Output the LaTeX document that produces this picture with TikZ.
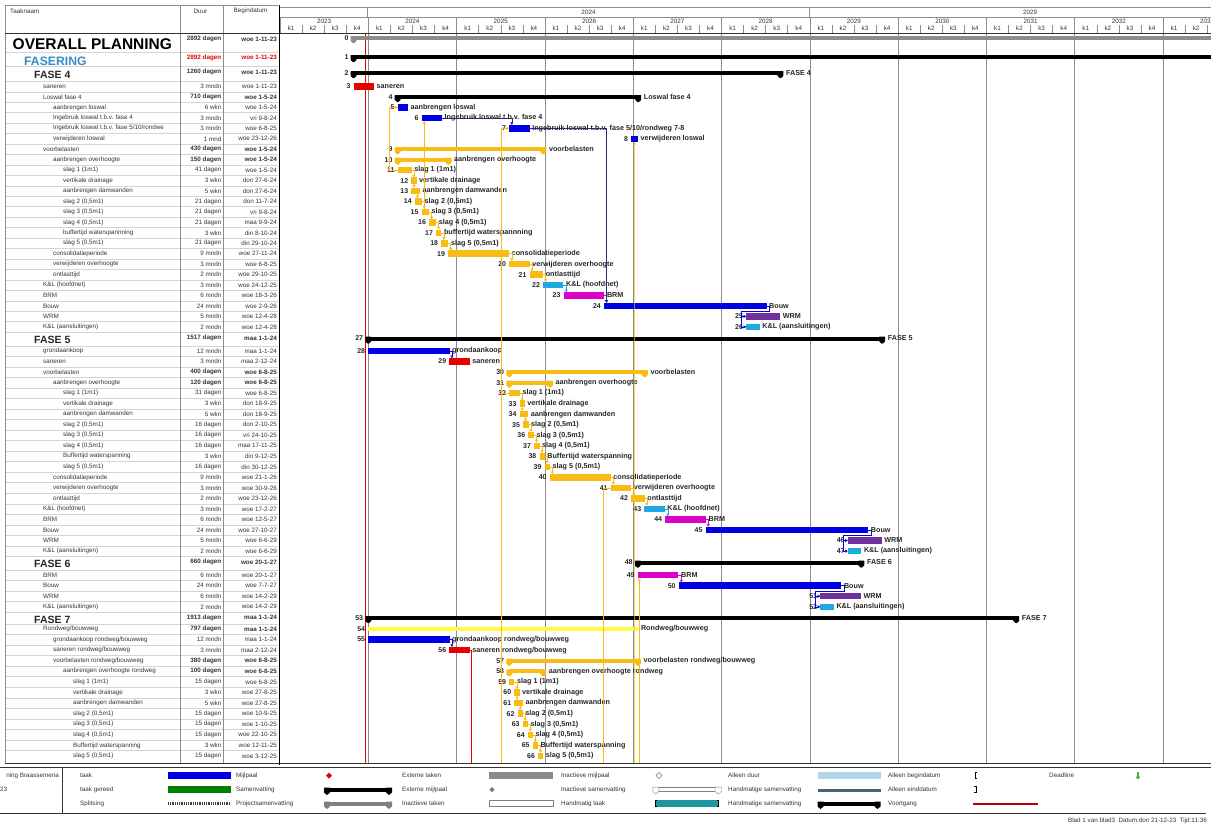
\documentclass[tikz,border=0pt]{standalone}
\usepackage{fontspec}
\setmainfont{Liberation Sans}
\usetikzlibrary{positioning,arrows.meta}

\definecolor{blauw}{RGB}{0,0,230}
\definecolor{rood}{RGB}{230,0,0}
\definecolor{geel}{RGB}{248,188,20}
\definecolor{lichtgeel}{RGB}{255,250,70}
\definecolor{cyaan}{RGB}{30,170,225}
\definecolor{magenta}{RGB}{220,0,200}
\definecolor{paars}{RGB}{112,48,160}
\definecolor{navy}{RGB}{40,40,120}
\definecolor{fasering}{RGB}{55,140,200}
\definecolor{teal}{RGB}{30,150,160}
\definecolor{lichtblauw}{RGB}{176,216,232}
\definecolor{leisteen}{RGB}{70,100,120}
\definecolor{groen}{RGB}{0,128,0}
\definecolor{deadline}{RGB}{80,170,70}

\newcommand{\fsz}[1]{\fontsize{#1}{#1}\selectfont}

\tikzset{
  cel/.style={inner sep=0pt, text=black!80, font=\fsz{6.3}},
  vet/.style={font=\bfseries\fsz{6.3}},
  nr/.style={inner sep=0pt, font=\bfseries\fsz{7}, text=black!85},
  lbl/.style={inner sep=0pt, font=\bfseries\fsz{7.2}, text=black!85},
  taak/.style={fill=#1, minimum height=6.5pt, inner sep=0pt, outer sep=0pt},
  somlijn/.style={fill=#1, minimum height=4pt, inner sep=0pt, outer sep=0pt},
  koppel/.style={draw=#1, line width=0.5pt, -{Triangle[length=2.6pt,width=3pt]}},
  rijlijn/.style={draw=black!17, line width=0.4pt},
  kolom/.style={draw=black!45, line width=0.5pt},
  jaarlijn/.style={draw=black!45, line width=0.5pt},
}

% tabelrij: id, y, x naam, naam, duur, begindatum, extra stijl
\newcommand{\trij}[7]{%
  \node[cel, anchor=west] (tn#1) at (#3,#2) {#4};
  \node[cel, anchor=east, #7] (td#1) at (221.5,#2) {#5};
  \node[cel, anchor=east, #7] (tb#1) at (277,#2) {#6};}

% taakbalk: id, y, begin, eind, kleur, tekst
\newcommand{\balk}[6]{%
  \node[taak=#5, anchor=west, minimum width={(#4-#3)*1pt}] (b#1) at (#3,#2) {};
  \node[nr, left=3pt of b#1] (n#1) {#1};
  \node[lbl, right=2.5pt of b#1] (l#1) {#6};}

% samenvatting: id, y, begin, eind, kleur, tekst
\newcommand{\som}[6]{%
  \node[somlijn=#5, anchor=west, minimum width={(#4-#3)*1pt}] (b#1) at (#3,#2) {};
  \fill[#5, rounded corners=0.6pt] (b#1.north west) ++(-3,0) -- ++(6,0) -- ++(0,5) -- ++(-3,2.5) -- ++(-3,-2.5) -- cycle;
  \fill[#5, rounded corners=0.6pt] (b#1.north east) ++(-3,0) -- ++(6,0) -- ++(0,5) -- ++(-3,2.5) -- ++(-3,-2.5) -- cycle;
  \node[nr, left=5pt of b#1] (n#1) {#1};
  \node[lbl, right=5.5pt of b#1] (l#1) {#6};}

% koppelingen
\newcommand{\fsk}[3]{\draw[koppel=#1] (b#2.east) -| ([xshift=2.5pt]b#3.north west);}
\newcommand{\slk}[3]{\draw[koppel=#1] (b#2.east) -- ++(3,0) -- ++(0,5.2) -| ([xshift=-5pt]b#3.west) -- (b#3.west);}

\begin{document}
\begin{tikzpicture}[x=1pt, y=-1pt]
\useasboundingbox (0,0) rectangle (1211,825);

% tijdschaal
\draw[jaarlijn] (280,7) -- (1211,7);
\draw[jaarlijn] (280,17.3) -- (1211,17.3);
\draw[jaarlijn] (367.7,7) -- (367.7,17.3);
\draw[jaarlijn] (809.3,7) -- (809.3,17.3);
\node[cel] (top1) at (588.5,12.5) {2024};
\node[cel] (top2) at (1030,12.5) {2029};
\foreach \j in {0,...,10} {
  \pgfmathsetmacro\xo{280+\j*88.3}
  \pgfmathtruncatemacro\jaar{2023+\j}
  \draw[jaarlijn] (\xo,17.3) -- (\xo,33);
  \node[cel] (jr\j) at (\xo+44.15,21.5) {\jaar};
  \foreach \q in {1,...,4} {
    \node[cel] (k\j\q) at (\xo+\q*22.075-11,28.6) {k\q};
  }
  \foreach \q in {1,...,3} {
    \draw[jaarlijn] (\xo+\q*22.075,25) -- (\xo+\q*22.075,33);
  }
}
\foreach \j in {1,...,10} {
  \draw[jaarlijn] (280+\j*88.3,33) -- (280+\j*88.3,763);
}
\draw[rood, line width=0.6pt] (365.5,33) -- (365.5,763);

% tabelkader
\draw[rijlijn] (5,52.5) -- (278,52.5) (5,66) -- (278,66) (5,81.3) -- (278,81.3);
\foreach \i in {3,...,25} {\draw[rijlijn] (5,{91.7+(\i-3)*10.45}) -- (278,{91.7+(\i-3)*10.45});}
\draw[rijlijn] (5,332.1) -- (278,332.1) (5,345.7) -- (278,345.7);
\foreach \i in {28,...,46} {\draw[rijlijn] (5,{356.3+(\i-28)*10.53}) -- (278,{356.3+(\i-28)*10.53});}
\draw[rijlijn] (5,556.4) -- (278,556.4) (5,569.7) -- (278,569.7);
\foreach \i in {49,...,51} {\draw[rijlijn] (5,{580.3+(\i-49)*10.6}) -- (278,{580.3+(\i-49)*10.6});}
\draw[rijlijn] (5,612.1) -- (278,612.1) (5,623.7) -- (278,623.7);
\foreach \i in {54,...,65} {\draw[rijlijn] (5,{634.3+(\i-54)*10.58}) -- (278,{634.3+(\i-54)*10.58});}
\draw[kolom] (5,5) -- (278,5);
\draw[kolom] (5,5) -- (5,763);
\draw[kolom] (180,5) -- (180,763);
\draw[kolom] (223,5) -- (223,763);
\draw[black!80, line width=0.7pt] (5,33) -- (1211,33);
\draw[black!80, line width=0.7pt] (5,763) -- (1211,763);
\draw[black, line width=0.9pt] (279,5) -- (279,765);

\node[cel, anchor=west] (kop1) at (10,11) {Taaknaam};
\node[cel] (kop2) at (200.5,11) {Duur};
\node[cel] (kop3) at (250.5,11) {Begindatum};

% tabel
\node[inner sep=0pt, anchor=west, font=\bfseries\fsz{15.5}] (tn0) at (12.5,44) {OVERALL PLANNING};
\node[cel, vet, anchor=east] (td0) at (221.5,39) {2892 dagen};
\node[cel, vet, anchor=east] (tb0) at (277,39) {woe 1-11-23};
\node[inner sep=0pt, anchor=west, font=\bfseries\fsz{12.2}, text=fasering] (tn1) at (24,61) {FASERING};
\node[cel, vet, anchor=east, text=rood] (td1) at (221.5,57.5) {2892 dagen};
\node[cel, vet, anchor=east, text=rood] (tb1) at (277,57.5) {woe 1-11-23};
\node[inner sep=0pt, anchor=west, font=\bfseries\fsz{10.5}, text=black!85] (tn2) at (34,74.5) {FASE 4};
\node[cel, vet, anchor=east] (td2) at (221.5,72) {1260 dagen};
\node[cel, vet, anchor=east] (tb2) at (277,72) {woe 1-11-23};
\trij{3}{86.5}{43}{saneren}{3 mndn}{woe 1-11-23}{}
\trij{4}{97.0}{43}{Loswal fase 4}{710 dagen}{woe 1-5-24}{vet}
\trij{5}{107.4}{53}{aanbrengen loswal}{6 wkn}{woe 1-5-24}{}
\trij{6}{117.9}{53}{Ingebruik loswal t.b.v. fase 4}{3 mndn}{vri 9-8-24}{}
\trij{7}{128.3}{53}{Ingebruik loswal t.b.v. fase 5/10/rondwe}{3 mndn}{woe 6-8-25}{}
\trij{8}{138.8}{53}{verwijderen loswal}{1 mnd}{woe 23-12-26}{}
\trij{9}{149.2}{43}{voorbelasten}{430 dagen}{woe 1-5-24}{vet}
\trij{10}{159.7}{53}{aanbrengen overhoogte}{150 dagen}{woe 1-5-24}{vet}
\trij{11}{170.1}{63}{slag 1 (1m1)}{41 dagen}{woe 1-5-24}{}
\trij{12}{180.6}{63}{vertikale drainage}{3 wkn}{don 27-6-24}{}
\trij{13}{191.0}{63}{aanbrengen damwanden}{5 wkn}{don 27-6-24}{}
\trij{14}{201.5}{63}{slag 2 (0,5m1)}{21 dagen}{don 11-7-24}{}
\trij{15}{211.9}{63}{slag 3 (0,5m1)}{21 dagen}{vri 9-8-24}{}
\trij{16}{222.4}{63}{slag 4 (0,5m1)}{21 dagen}{maa 9-9-24}{}
\trij{17}{232.8}{63}{buffertijd waterspannning}{3 wkn}{din 8-10-24}{}
\trij{18}{243.3}{63}{slag 5 (0,5m1)}{21 dagen}{din 29-10-24}{}
\trij{19}{253.7}{53}{consolidatieperiode}{9 mndn}{woe 27-11-24}{}
\trij{20}{264.2}{53}{verwijderen overhoogte}{3 mndn}{woe 6-8-25}{}
\trij{21}{274.6}{53}{ontlasttijd}{2 mndn}{woe 29-10-25}{}
\trij{22}{285.1}{43}{K\&L (hoofdnet)}{3 mndn}{woe 24-12-25}{}
\trij{23}{295.5}{43}{BRM}{6 mndn}{woe 18-3-26}{}
\trij{24}{306.0}{43}{Bouw}{24 mndn}{woe 2-9-26}{}
\trij{25}{316.4}{43}{WRM}{5 mndn}{woe 12-4-28}{}
\trij{26}{326.9}{43}{K\&L (aansluitingen)}{2 mndn}{woe 12-4-28}{}
\node[inner sep=0pt, anchor=west, font=\bfseries\fsz{10.5}, text=black!85] (tn27) at (34,340) {FASE 5};
\node[cel, vet, anchor=east] (td27) at (221.5,338) {1517 dagen};
\node[cel, vet, anchor=east] (tb27) at (277,338) {maa 1-1-24};
\trij{28}{351.0}{43}{grondaankoop}{12 mndn}{maa 1-1-24}{}
\trij{29}{361.5}{43}{saneren}{3 mndn}{maa 2-12-24}{}
\trij{30}{372.1}{43}{voorbelasten}{400 dagen}{woe 6-8-25}{vet}
\trij{31}{382.6}{53}{aanbrengen overhoogte}{120 dagen}{woe 6-8-25}{vet}
\trij{32}{393.1}{63}{slag 1 (1m1)}{31 dagen}{woe 6-8-25}{}
\trij{33}{403.7}{63}{vertikale drainage}{3 wkn}{don 18-9-25}{}
\trij{34}{414.2}{63}{aanbrengen damwanden}{5 wkn}{don 18-9-25}{}
\trij{35}{424.7}{63}{slag 2 (0,5m1)}{16 dagen}{don 2-10-25}{}
\trij{36}{435.2}{63}{slag 3 (0,5m1)}{16 dagen}{vri 24-10-25}{}
\trij{37}{445.8}{63}{slag 4 (0,5m1)}{16 dagen}{maa 17-11-25}{}
\trij{38}{456.3}{63}{Buffertijd waterspanning}{3 wkn}{din 9-12-25}{}
\trij{39}{466.8}{63}{slag 5 (0,5m1)}{16 dagen}{din 30-12-25}{}
\trij{40}{477.4}{53}{consolidatieperiode}{9 mndn}{woe 21-1-26}{}
\trij{41}{487.9}{53}{verwijderen overhoogte}{3 mndn}{woe 30-9-26}{}
\trij{42}{498.4}{53}{ontlasttijd}{2 mndn}{woe 23-12-26}{}
\trij{43}{509.0}{43}{K\&L (hoofdnet)}{3 mndn}{woe 17-2-27}{}
\trij{44}{519.5}{43}{BRM}{6 mndn}{woe 12-5-27}{}
\trij{45}{530.0}{43}{Bouw}{24 mndn}{woe 27-10-27}{}
\trij{46}{540.5}{43}{WRM}{5 mndn}{woe 6-6-29}{}
\trij{47}{551.1}{43}{K\&L (aansluitingen)}{2 mndn}{woe 6-6-29}{}
\node[inner sep=0pt, anchor=west, font=\bfseries\fsz{10.5}, text=black!85] (tn48) at (34,564) {FASE 6};
\node[cel, vet, anchor=east] (td48) at (221.5,562) {660 dagen};
\node[cel, vet, anchor=east] (tb48) at (277,562) {woe 20-1-27};
\trij{49}{575.0}{43}{BRM}{6 mndn}{woe 20-1-27}{}
\trij{50}{585.6}{43}{Bouw}{24 mndn}{woe 7-7-27}{}
\trij{51}{596.2}{43}{WRM}{6 mndn}{woe 14-2-29}{}
\trij{52}{606.8}{43}{K\&L (aansluitingen)}{2 mndn}{woe 14-2-29}{}
\node[inner sep=0pt, anchor=west, font=\bfseries\fsz{10.5}, text=black!85] (tn53) at (34,619.5) {FASE 7};
\node[cel, vet, anchor=east] (td53) at (221.5,617.5) {1913 dagen};
\node[cel, vet, anchor=east] (tb53) at (277,617.5) {maa 1-1-24};
\trij{54}{629.0}{43}{Rondweg/bouwweg}{797 dagen}{maa 1-1-24}{vet}
\trij{55}{639.6}{53}{grondaankoop rondweg/bouwweg}{12 mndn}{maa 1-1-24}{}
\trij{56}{650.2}{53}{saneren rondweg/bouwweg}{3 mndn}{maa 2-12-24}{}
\trij{57}{660.7}{53}{voorbelasten rondweg/bouwweg}{380 dagen}{woe 6-8-25}{vet}
\trij{58}{671.3}{63}{aanbrengen overhoogte rondweg}{100 dagen}{woe 6-8-25}{vet}
\trij{59}{681.9}{73}{slag 1 (1m1)}{15 dagen}{woe 6-8-25}{}
\trij{60}{692.5}{73}{vertikale drainage}{3 wkn}{woe 27-8-25}{}
\trij{61}{703.1}{73}{aanbrengen damwanden}{5 wkn}{woe 27-8-25}{}
\trij{62}{713.6}{73}{slag 2 (0,5m1)}{15 dagen}{woe 10-9-25}{}
\trij{63}{724.2}{73}{slag 3 (0,5m1)}{15 dagen}{woe 1-10-25}{}
\trij{64}{734.8}{73}{slag 4 (0,5m1)}{15 dagen}{woe 22-10-25}{}
\trij{65}{745.4}{73}{Buffertijd waterspanning}{3 wkn}{woe 12-11-25}{}
\trij{66}{756.0}{73}{slag 5 (0,5m1)}{15 dagen}{woe 3-12-25}{}

% balken fase 4
\som{0}{38}{353.6}{1333}{black!45}{}
\som{1}{57}{353.6}{1333}{black}{}
\som{2}{73}{353.6}{780.4}{black}{FASE 4}
\balk{3}{86.5}{353.6}{373.9}{rood}{saneren}
\som{4}{97.0}{397.7}{638.2}{black}{Loswal fase 4}
\balk{5}{107.4}{397.7}{407.9}{blauw}{aanbrengen loswal}
\balk{6}{117.9}{421.7}{442.0}{blauw}{Ingebruik loswal t.b.v. fase 4}
\balk{7}{128.3}{509.3}{529.6}{blauw}{Ingebruik loswal t.b.v. fase 5/10/rondweg 7-8}
\balk{8}{138.8}{631.2}{638.0}{blauw}{verwijderen loswal}
\som{9}{149.2}{397.7}{543.3}{geel}{voorbelasten}
\som{10}{159.7}{397.7}{448.5}{geel}{aanbrengen overhoogte}
\balk{11}{170.1}{397.7}{411.6}{geel}{slag 1 (1m1)}
\balk{12}{180.6}{411.4}{416.5}{geel}{vertikale drainage}
\balk{13}{191.0}{411.4}{419.9}{geel}{aanbrengen damwanden}
\balk{14}{201.5}{414.9}{422.0}{geel}{slag 2 (0,5m1)}
\balk{15}{211.9}{421.7}{428.8}{geel}{slag 3 (0,5m1)}
\balk{16}{222.4}{429.1}{436.2}{geel}{slag 4 (0,5m1)}
\balk{17}{232.8}{436.2}{441.3}{geel}{buffertijd waterspannning}
\balk{18}{243.3}{441.3}{448.4}{geel}{slag 5 (0,5m1)}
\balk{19}{253.7}{448.2}{509.1}{geel}{consolidatieperiode}
\balk{20}{264.2}{509.3}{529.6}{geel}{verwijderen overhoogte}
\balk{21}{274.6}{529.6}{543.1}{geel}{ontlasttijd}
\balk{22}{285.1}{543.1}{563.4}{cyaan}{K\&L (hoofdnet)}
\balk{23}{295.5}{563.7}{604.3}{magenta}{BRM}
\balk{24}{306.0}{604.0}{766.5}{blauw}{Bouw}
\balk{25}{316.4}{746.2}{780.1}{paars}{WRM}
\balk{26}{326.9}{746.2}{759.7}{cyaan}{K\&L (aansluitingen)}
% fase 5
\som{27}{338.5}{368.3}{882.1}{black}{FASE 5}
\balk{28}{351.0}{368.3}{449.5}{blauw}{grondaankoop}
\balk{29}{361.5}{449.4}{469.7}{rood}{saneren}
\som{30}{372.1}{509.3}{644.8}{geel}{voorbelasten}
\som{31}{382.6}{509.3}{549.9}{geel}{aanbrengen overhoogte}
\balk{32}{393.1}{509.3}{519.8}{geel}{slag 1 (1m1)}
\balk{33}{403.7}{519.6}{524.7}{geel}{vertikale drainage}
\balk{34}{414.2}{519.6}{528.1}{geel}{aanbrengen damwanden}
\balk{35}{424.7}{523.1}{528.5}{geel}{slag 2 (0,5m1)}
\balk{36}{435.2}{528.4}{533.8}{geel}{slag 3 (0,5m1)}
\balk{37}{445.8}{534.1}{539.5}{geel}{slag 4 (0,5m1)}
\balk{38}{456.3}{539.5}{544.6}{geel}{Buffertijd waterspanning}
\balk{39}{466.8}{544.6}{550.0}{geel}{slag 5 (0,5m1)}
\balk{40}{477.4}{549.8}{610.7}{geel}{consolidatieperiode}
\balk{41}{487.9}{610.8}{631.1}{geel}{verwijderen overhoogte}
\balk{42}{498.4}{631.2}{644.7}{geel}{ontlasttijd}
\balk{43}{509.0}{644.4}{664.7}{cyaan}{K\&L (hoofdnet)}
\balk{44}{519.5}{665.3}{705.9}{magenta}{BRM}
\balk{45}{530.0}{705.7}{868.2}{blauw}{Bouw}
\balk{46}{540.5}{847.8}{881.7}{paars}{WRM}
\balk{47}{551.1}{847.8}{861.3}{cyaan}{K\&L (aansluitingen)}
% fase 6
\som{48}{562.5}{637.8}{861.3}{black}{FASE 6}
\balk{49}{575.0}{637.8}{678.4}{magenta}{BRM}
\balk{50}{585.6}{678.8}{841.3}{blauw}{Bouw}
\balk{51}{596.2}{820.3}{860.9}{paars}{WRM}
\balk{52}{606.8}{820.3}{833.8}{cyaan}{K\&L (aansluitingen)}
% fase 7
\som{53}{618.0}{368.3}{1016.2}{black}{FASE 7}
\node[fill=lichtgeel, minimum height=3.5pt, inner sep=0pt, outer sep=0pt, anchor=west, minimum width=270pt] (b54) at (368.3,629.0) {};
\node[nr, left=3pt of b54] (n54) {54};
\node[lbl, right=2.5pt of b54] (l54) {Rondweg/bouwweg};
\balk{55}{639.6}{368.3}{449.5}{blauw}{grondaankoop rondweg/bouwweg}
\balk{56}{650.2}{449.4}{469.7}{rood}{saneren rondweg/bouwweg}
\som{57}{660.7}{509.3}{638.0}{geel}{voorbelasten rondweg/bouwweg}
\som{58}{671.3}{509.3}{543.2}{geel}{aanbrengen overhoogte rondweg}
\balk{59}{681.9}{509.3}{514.4}{geel}{slag 1 (1m1)}
\balk{60}{692.5}{514.4}{519.5}{geel}{vertikale drainage}
\balk{61}{703.1}{514.4}{522.9}{geel}{aanbrengen damwanden}
\balk{62}{713.6}{517.6}{522.7}{geel}{slag 2 (0,5m1)}
\balk{63}{724.2}{522.8}{527.9}{geel}{slag 3 (0,5m1)}
\balk{64}{734.8}{527.9}{533.0}{geel}{slag 4 (0,5m1)}
\balk{65}{745.4}{532.8}{537.9}{geel}{Buffertijd waterspanning}
\balk{66}{756.0}{538.1}{543.2}{geel}{slag 5 (0,5m1)}

% koppelingen
\foreach \a/\b in {11/12,12/13,13/14,14/15,15/16,16/17,17/18,18/19,19/20,20/21,21/22,
  32/33,33/34,34/35,35/36,36/37,37/38,38/39,39/40,40/41,41/42,42/43,
  59/60,60/61,61/62,62/63,63/64,64/65,65/66} {\fsk{geel}{\a}{\b}}
\fsk{cyaan}{22}{23}
\fsk{magenta}{23}{24}
\fsk{cyaan}{43}{44}
\fsk{magenta}{44}{45}
\fsk{magenta}{49}{50}
\fsk{blauw}{28}{29}
\fsk{blauw}{55}{56}
\fsk{navy}{6}{7}
\fsk{navy}{7}{24}
\slk{blauw}{24}{25}
\slk{blauw}{24}{26}
\slk{blauw}{45}{46}
\slk{blauw}{45}{47}
\slk{blauw}{50}{51}
\slk{blauw}{50}{52}
\coordinate (p7) at (501,763);
\coordinate (p8) at (634.6,763);
\coordinate (p41) at (602.8,763);
\coordinate (p49) at (639.3,763);
\coordinate (p56) at (471.2,763);
\draw[koppel=geel] (b11.west) -- ++(-8.5,0) |- (b5.west);
\draw[koppel=geel] ([xshift=2.5pt]b15.north west) -- ([xshift=2.5pt]b6.south west);
\draw[koppel=geel] (p7) |- (b7.west);
\draw[draw=geel, line width=0.5pt] (b32.west) -- (p7 |- b32.west);
\draw[koppel=geel] (p8) -- (b8.south);
\draw[draw=geel, line width=0.5pt] (b41.west) -| (p41);
\draw[koppel=geel] (p49) -- (p49 |- b49.south);
\draw[draw=rood, line width=0.5pt] (b56.east) -| (p56);

% legenda
\draw[black!80, line width=0.6pt] (0,767.5) -- (1211,767.5);
\draw[black!80, line width=0.6pt] (0,813) -- (1206,813);
\draw[black!80, line width=0.6pt] (62,767.5) -- (62,813);
\node[cel, anchor=east] (proj1) at (59,775.5) {ning Braassemeria};
\node[cel, anchor=west] (proj2) at (0,789.5) {23};
\node[cel, anchor=west] (lt1) at (80,775.5) {taak};
\node[cel, anchor=west] (lt2) at (80,789.5) {taak gereed};
\node[cel, anchor=west] (lt3) at (80,803.5) {Splitsing};
\node[fill=blauw, inner sep=0pt, minimum width=63pt, minimum height=6.5pt] (ls1) at (199.5,775.5) {};
\node[fill=groen, inner sep=0pt, minimum width=63pt, minimum height=6.5pt] (ls2) at (199.5,789.5) {};
\draw[black!75, line width=3pt, dash pattern=on 0.5pt off 1.3pt] (168,803.5) -- (231,803.5);
\node[cel, anchor=west] (lt4) at (236,775.5) {Mijlpaal};
\node[cel, anchor=west] (lt5) at (236,789.5) {Samenvatting};
\node[cel, anchor=west] (lt6) at (236,803.5) {Projectsamenvatting};
\fill[rood] (329,772.5) -- (332,775.5) -- (329,778.5) -- (326,775.5) -- cycle;
\node[somlijn=black, minimum width=62pt] (ls5) at (358,789.5) {};
\fill[black] (ls5.north west) ++(-3,0) -- ++(6,0) -- ++(0,5) -- ++(-3,2.5) -- ++(-3,-2.5) -- cycle;
\fill[black] (ls5.north east) ++(-3,0) -- ++(6,0) -- ++(0,5) -- ++(-3,2.5) -- ++(-3,-2.5) -- cycle;
\node[somlijn=black!50, minimum width=62pt] (ls6) at (358,803.5) {};
\fill[black!50] (ls6.north west) ++(-3,0) -- ++(6,0) -- ++(0,5) -- ++(-3,2.5) -- ++(-3,-2.5) -- cycle;
\fill[black!50] (ls6.north east) ++(-3,0) -- ++(6,0) -- ++(0,5) -- ++(-3,2.5) -- ++(-3,-2.5) -- cycle;
\node[cel, anchor=west] (lt7) at (402,775.5) {Externe taken};
\node[cel, anchor=west] (lt8) at (402,789.5) {Externe mijlpaal};
\node[cel, anchor=west] (lt9) at (402,803.5) {Inactieve taken};
\node[fill=black!45, inner sep=0pt, minimum width=64pt, minimum height=6.5pt] (ls7) at (521,775.5) {};
\fill[black!55] (492,787) -- (494.5,789.5) -- (492,792) -- (489.5,789.5) -- cycle;
\node[draw=black!50, fill=white, inner sep=0pt, minimum width=64pt, minimum height=6pt] (ls9) at (521,803.5) {};
\node[cel, anchor=west] (lt10) at (561,775.5) {Inactieve mijlpaal};
\node[cel, anchor=west] (lt11) at (561,789.5) {Inactieve samenvatting};
\node[cel, anchor=west] (lt12) at (561,803.5) {Handmatig taak};
\draw[black!55, line width=0.5pt] (659,772.5) -- (662,775.5) -- (659,778.5) -- (656,775.5) -- cycle;
\node[draw=black!50, fill=white, inner sep=0pt, minimum width=62pt, minimum height=3.5pt] (ls11) at (687,789) {};
\draw[black!50, fill=white] (ls11.north west) ++(-3,0) -- ++(6,0) -- ++(0,4.5) -- ++(-3,2.5) -- ++(-3,-2.5) -- cycle;
\draw[black!50, fill=white] (ls11.north east) ++(-3,0) -- ++(6,0) -- ++(0,4.5) -- ++(-3,2.5) -- ++(-3,-2.5) -- cycle;
\node[fill=teal, inner sep=0pt, minimum width=63pt, minimum height=6.5pt] (ls12) at (687,803.5) {};
\draw[black, line width=1pt] ([xshift=2pt]ls12.north west) -- (ls12.north west) -- (ls12.south west) -- ([xshift=2pt]ls12.south west);
\draw[black, line width=1pt] ([xshift=-2pt]ls12.north east) -- (ls12.north east) -- (ls12.south east) -- ([xshift=-2pt]ls12.south east);
\node[cel, anchor=west] (lt13) at (728,775.5) {Alleen duur};
\node[cel, anchor=west] (lt14) at (728,789.5) {Handmatige samenvatting};
\node[cel, anchor=west] (lt15) at (728,803.5) {Handmatige samenvatting};
\node[fill=lichtblauw, inner sep=0pt, minimum width=63pt, minimum height=6.5pt] (ls13) at (849,775.5) {};
\node[fill=leisteen, inner sep=0pt, minimum width=63pt, minimum height=2.8pt] (ls14) at (849,790.5) {};
\node[somlijn=black, minimum width=57pt] (ls15) at (849,803.5) {};
\fill[black] (ls15.north west) ++(-3,0) -- ++(6,0) -- ++(0,5) -- ++(-3,2.5) -- ++(-3,-2.5) -- cycle;
\fill[black] (ls15.north east) ++(-3,0) -- ++(6,0) -- ++(0,5) -- ++(-3,2.5) -- ++(-3,-2.5) -- cycle;
\node[cel, anchor=west] (lt16) at (888,775.5) {Alleen begindatum};
\node[cel, anchor=west] (lt17) at (888,789.5) {Alleen einddatum};
\node[cel, anchor=west] (lt18) at (888,803.5) {Voortgang};
\draw[black, line width=1pt] (977,772.5) -- (975,772.5) -- (975,778.5) -- (977,778.5);
\draw[black, line width=1pt] (974,786.5) -- (976,786.5) -- (976,792.5) -- (974,792.5);
\draw[rood!80!black, line width=1.1pt] (973,804) -- (1038,804);
\node[cel, anchor=west] (lt19) at (1049,775.5) {Deadline};
\draw[deadline, line width=1.2pt, -{Triangle[length=3pt,width=5pt]}] (1138,771.5) -- (1138,779.5);
\node[cel, anchor=east] (blad) at (1207,821) {Blad 1 van blad3\ \ Datum:don 21-12-23\ \ Tijd:11:36};
\end{tikzpicture}
\end{document}
